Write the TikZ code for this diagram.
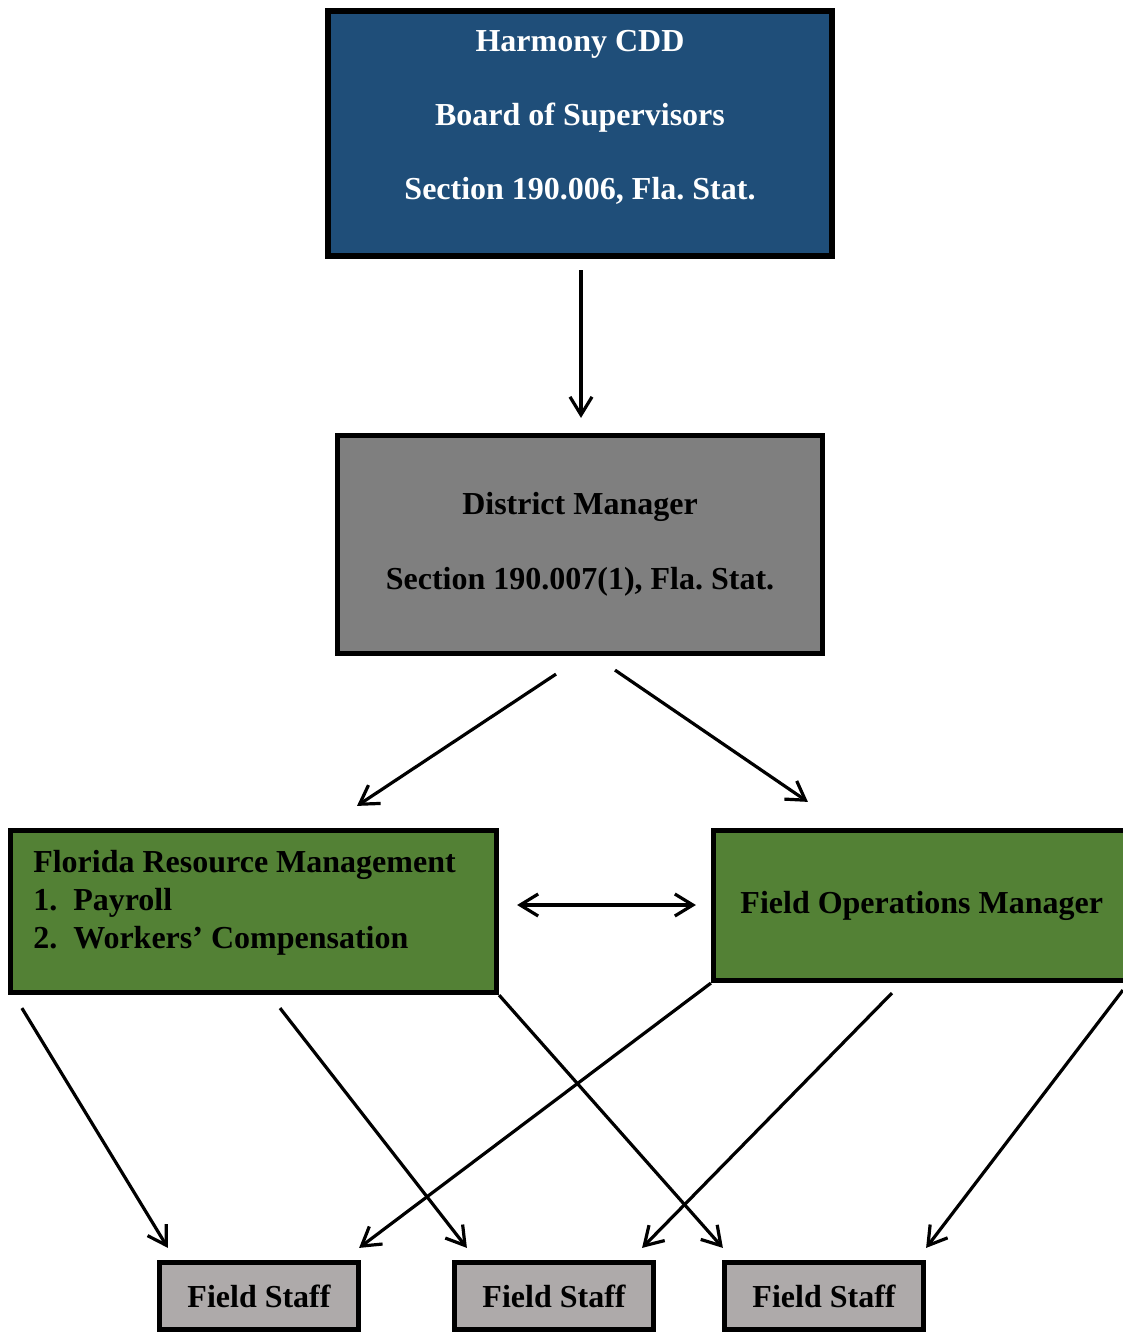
\documentclass[tikz,border=0pt]{standalone}
\usepackage{fontspec}
\setmainfont{Liberation Serif}
\usetikzlibrary{arrows.meta,calc}
\frenchspacing
\definecolor{boardblue}{HTML}{1F4E79}
\definecolor{managergray}{HTML}{7F7F7F}
\definecolor{officegreen}{HTML}{538135}
\definecolor{staffgray}{HTML}{AEAAAA}
\tikzset{
  box/.style={draw, line width=2.6pt, inner sep=0pt, align=center,
    font=\bfseries\fontsize{16}{19}\selectfont},
  link/.style={line width=1.6pt, -{Straight Barb[length=9pt,width=11pt]}},
  twoway/.style={line width=1.6pt, {Straight Barb[length=9pt,width=11pt]}-{Straight Barb[length=9pt,width=11pt]}},
}

\begin{document}
\begin{tikzpicture}[x=0.5pt, y=-0.5pt]
\useasboundingbox (0,0) rectangle (1123,1332);
\clip (0,0) rectangle (1123,1332);
% Boxes
    \node[box, fill=boardblue, minimum width=252pt, minimum height=122.5pt] (board) at (580,133.5) {};
    \node[box, fill=managergray, minimum width=242.5pt, minimum height=109pt,
      font=\bfseries\fontsize{16}{37.5}\selectfont] (dm) at (580,544.5)
      {District Manager\\Section 190.007(1), Fla. Stat.};
    \node[box, fill=officegreen, minimum width=243pt, minimum height=81pt] (frm) at (253.5,911.5) {};
    \node[box, fill=officegreen, minimum width=208.25pt, minimum height=75pt] (fom) at (921.75,905.5)
      {Field Operations Manager};
    \node[box, fill=staffgray, minimum width=99.5pt, minimum height=33.5pt] (fs1) at (259,1296) {Field Staff};
    \node[box, fill=staffgray, minimum width=99.5pt, minimum height=33.5pt] (fs2) at (554,1296) {Field Staff};
    \node[box, fill=staffgray, minimum width=99.5pt, minimum height=33.5pt] (fs3) at (824,1296) {Field Staff};
% Box texts
    \node[inner sep=0pt, align=center, text=white, font=\bfseries\fontsize{16}{37}\selectfont]
      (boardtxt) at ($(board.center)+(0,-16)$)
      {Harmony CDD\\Board of Supervisors\\Section 190.006, Fla. Stat.};
    \node[inner sep=0pt, align=left, anchor=north west, font=\bfseries\fontsize{16}{19}\selectfont]
      (frmtxt) at ($(frm.north west)+(25,22)$)
      {Florida Resource Management\\\makebox[20pt][l]{1.}Payroll\\\makebox[20pt][l]{2.}Workers’ Compensation};
% Reporting lines
    \draw[link] ($(board.south)+(1,11.5)$) -- ($(dm.north)+(1,-15)$);
    \draw[link] ($(dm.south)+(-24,18)$) -- ($(frm.north)+(103.5,-22)$);
    \draw[link] ($(dm.south)+(35,14)$) -- ($(fom.north west)+(97,-26)$);
    \draw[twoway] ($(frm.east)+(18,-6.5)$) -- ($(fom.west)+(-15,-0.5)$);
% Staff lines
    \draw[link] ($(frm.south west)+(14,13)$) -- ($(fs1.north west)+(11,-12)$);
    \draw[link] ($(frm.south)+(26.5,13)$) -- ($(fs2.north west)+(15,-12)$);
    \draw[link] (frm.south east) -- ($(fs3.north west)+(1,-12)$);
    \draw[link] (fom.south west) -- ($(fs1.north east)+(-2,-12)$);
    \draw[link] ($(fom.south west)+(181,10)$) -- ($(fs2.north east)+(-14,-12)$);
    \draw[link] ($(fom.south west)+(412,7)$) -- ($(fs3.north east)+(0,-12)$);
\end{tikzpicture}
\end{document}
